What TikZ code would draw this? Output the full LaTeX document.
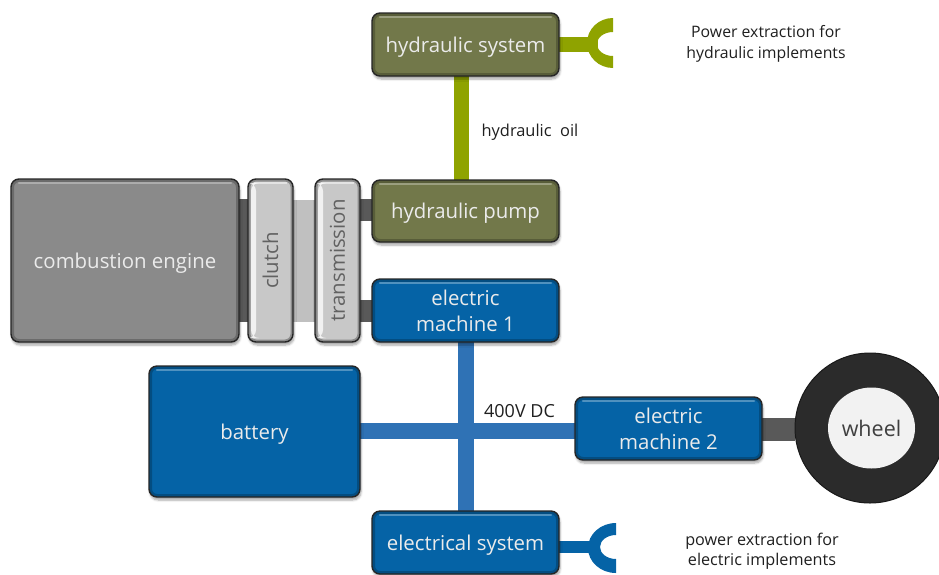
\documentclass[tikz,border=0pt]{standalone}
\usepackage{fontspec}
\setmainfont{Open Sans}
\usetikzlibrary{backgrounds,shadows.blur,shapes.geometric}
\definecolor{olivebox}{HTML}{72784A}
\definecolor{bluebox}{HTML}{0563A6}
\definecolor{greybox}{HTML}{8A8A8A}
\definecolor{lightbox}{HTML}{C8C8C8}
\definecolor{oliveline}{HTML}{8FA300}
\definecolor{busline}{HTML}{2F72B5}
\definecolor{darkline}{HTML}{595959}
\definecolor{lightline}{HTML}{C0C0C0}
\definecolor{tyre}{HTML}{2B2B2B}
\newcommand{\lowered}[1]{\raisebox{-2.5pt}[\height][\depth]{#1}}
\tikzset{
  gbox/.style={draw=black!85,line width=1.4pt,fill=#1,rounded corners=8pt,outer sep=0pt,inner sep=0pt,
    align=center,text=white!92!black,font=\fontsize{20.4}{26}\selectfont,
    blur shadow={shadow xshift=1pt,shadow yshift=-3pt,shadow blur steps=6,shadow opacity=35},
    path picture={
      \draw[black,opacity=.22,line width=6pt,rounded corners=8pt]
        (path picture bounding box.south west) rectangle (path picture bounding box.north east);
      \draw[white,opacity=.3,line width=2.5pt,line cap=round]
        ([xshift=8pt,yshift=-4pt]path picture bounding box.north west) --
        ([xshift=-8pt,yshift=-4pt]path picture bounding box.north east);
    }},
  sheen/.style={text=black!62,path picture={
      \draw[black,opacity=.3,line width=5pt,rounded corners=8pt]
        (path picture bounding box.south west) rectangle (path picture bounding box.north east);
      \fill[white,opacity=.75]
        ([xshift=3pt,yshift=-4pt]path picture bounding box.north west) rectangle
        ([xshift=8pt,yshift=4pt]path picture bounding box.south west);
      \draw[white,opacity=.5,line width=2pt]
        ([xshift=6pt,yshift=-4pt]path picture bounding box.north west) --
        ([xshift=-6pt,yshift=-4pt]path picture bounding box.north east);
    }},
  note/.style={font=\fontsize{15.8}{20.5}\selectfont,text=black!88,align=center,inner sep=0pt},
  olivewire/.style={draw=oliveline,line width=15pt},
  buswire/.style={draw=busline,line width=16pt},
  darkwire/.style={draw=darkline,line width=#1}
}
\begin{document}
\begin{tikzpicture}[x=1pt,y=1pt]
\useasboundingbox (0,-574) rectangle (939,0);
\node[gbox=olivebox,minimum width=187pt,minimum height=63pt] (hs) at (465.5,-44.5) {\lowered{hydraulic system}};
\node[gbox=olivebox,minimum width=187pt,minimum height=62pt] (hp) at (465.5,-211) {\lowered{hydraulic pump}};
\node[gbox=bluebox,minimum width=187pt,minimum height=63pt] (em1) at (465.5,-310.5) {electric\\machine 1};
\node[gbox=bluebox,minimum width=211pt,minimum height=131pt] (bat) at (254.5,-431.5) {\lowered{battery}};
\node[gbox=bluebox,minimum width=187pt,minimum height=63pt] (em2) at (668.5,-428.5) {electric\\machine 2};
\node[gbox=bluebox,minimum width=187pt,minimum height=63pt] (es) at (465.5,-542.5) {\lowered{electrical system}};
\node[gbox=greybox,minimum width=228pt,minimum height=163pt] (ce) at (125,-260.5) {\lowered{combustion engine}};
\node[gbox=lightbox,sheen,minimum width=45pt,minimum height=163pt] (cl) at (270.5,-260.5) {\rotatebox{90}{clutch}};
\node[gbox=lightbox,sheen,minimum width=45pt,minimum height=163pt] (tr) at (337.5,-260.5) {\rotatebox{90}{transmission}};
\node[ellipse,fill=tyre,draw=black!90,line width=1pt,minimum width=150pt,minimum height=150pt,inner sep=0pt,outer sep=0pt] (wh) at (870,-428) {};
\node[ellipse,fill=white!95!black,minimum width=87pt,minimum height=81pt,inner sep=0pt,outer sep=0pt,text=black!75,font=\fontsize{21.5}{26}\selectfont] (wi) at (871.5,-428) {wheel};
\coordinate (cupH) at (598,-44.5);
\coordinate (cupE) at (600,-547);
\node[note] (n1) at (766,-44) {Power extraction for\\hydraulic implements};
\node[note,font=\fontsize{16.2}{20.5}\selectfont] (n2) at (762,-551) {power extraction for\\electric implements};
\node[note,font=\fontsize{16.4}{20}\selectfont] (n3) at (530,-132) {hydraulic\ \ oil};
\node[note,font=\fontsize{18}{20}\selectfont] (n4) at (519.5,-411) {400V DC};
\begin{scope}[on background layer]
  \draw[olivewire] ([xshift=-4.5pt]hs.south) -- ([xshift=-4.5pt]hp.north);
  \draw[olivewire] (hs.east) -- (cupH);
  \fill[oliveline] (613,-18) arc[start angle=90,end angle=270,x radius=26,y radius=25] --
    (613,-56) arc[start angle=270,end angle=90,x radius=16,y radius=12] -- cycle;
  \draw[darkwire=123pt] (ce.east) -- (cl.west);
  \draw[draw=lightline,line width=122pt] (cl.east) -- (tr.west);
  \draw[darkwire=22pt] ([yshift=50.5pt]tr.east) -- ([yshift=1pt]hp.west);
  \draw[darkwire=22pt] ([yshift=-50.5pt]tr.east) -- ([yshift=-0.5pt]em1.west);
  \draw[buswire] (em1.south) -- (es.north);
  \draw[buswire] ([yshift=0.5pt]bat.east) -- ([yshift=-2.5pt]em2.west);
  \draw[darkwire=23pt] ([yshift=-1pt]em2.east) -- ([yshift=-1.5pt]wh.west);
  \draw[draw=bluebox,line width=12pt] ([yshift=-4.5pt]es.east) -- (cupE);
  \fill[bluebox] (616,-523) arc[start angle=90,end angle=270,x radius=28,y radius=25] --
    (616,-559) arc[start angle=270,end angle=90,x radius=16,y radius=12] -- cycle;
\end{scope}
\end{tikzpicture}
\end{document}
